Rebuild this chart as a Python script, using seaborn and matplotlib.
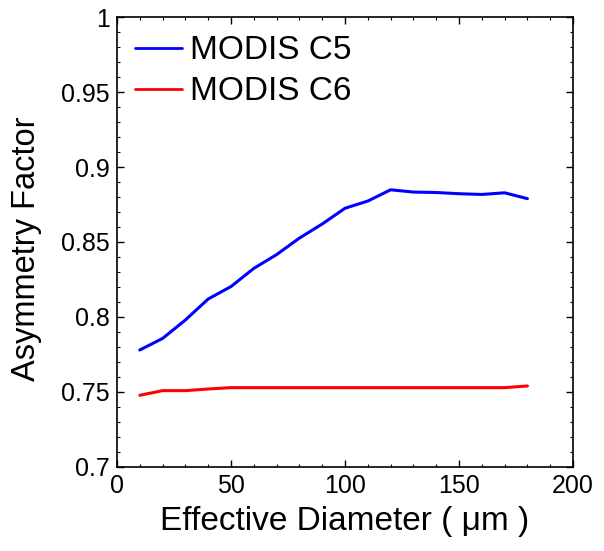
import matplotlib
matplotlib.use("Agg")
import matplotlib.pyplot as plt
import seaborn as sns
import pandas as pd
from matplotlib.ticker import MultipleLocator

diameter = [10, 20, 30, 40, 50, 60, 70, 80, 90, 100, 110, 120, 130, 140, 150, 160, 170, 180]
c5 = [0.778, 0.7857, 0.798, 0.812, 0.8203, 0.8324, 0.8416, 0.8526, 0.862, 0.8725,
      0.8773, 0.8848, 0.8833, 0.883, 0.8822, 0.8817, 0.8828, 0.8789]
c6 = [0.7478, 0.7509, 0.7509, 0.752, 0.7529, 0.7529, 0.7529, 0.7529, 0.7529, 0.7529,
      0.7529, 0.7529, 0.7529, 0.7529, 0.7529, 0.7529, 0.7529, 0.754]
series = ["MODIS C5", "MODIS C6"]
xticks = [0, 50, 100, 150, 200]
xticklabels = ["0", "50", "100", "150", "200"]
yticks = [0.7, 0.75, 0.8, 0.85, 0.9, 0.95, 1.0]
yticklabels = ["0.7", "0.75", "0.8", "0.85", "0.9", "0.95", "1"]

df = pd.DataFrame({
    "x": diameter * 2,
    "y": c5 + c6,
    "series": [series[0]] * len(diameter) + [series[1]] * len(diameter),
})

sns.set_style("ticks")
plt.rcParams["font.family"] = ["Liberation Sans", "DejaVu Sans"]
plt.rcParams["text.color"] = "black"
plt.rcParams["axes.labelcolor"] = "black"
plt.rcParams["xtick.color"] = "black"
plt.rcParams["ytick.color"] = "black"

fig = plt.figure(figsize=(6.04, 5.51), dpi=100)
ax = fig.add_axes([0.1937, 0.1525, 0.755, 0.8166])
sns.lineplot(data=df, x="x", y="y", hue="series", palette=["#0000ff", "#ff0000"],
             linewidth=2.2, ax=ax)

ax.set_xlim(0, 200)
ax.set_ylim(0.7, 1.0)
ax.set_xticks(xticks)
ax.set_xticklabels(xticklabels)
ax.set_yticks(yticks)
ax.set_yticklabels(yticklabels)
ax.xaxis.set_minor_locator(MultipleLocator(10))
ax.yaxis.set_minor_locator(MultipleLocator(0.01))
ax.tick_params(which="both", direction="in", top=True, right=True, labelsize=18,
               pad=5, colors="black")
ax.tick_params(which="major", length=5, width=1)
ax.tick_params(which="minor", length=2.5, width=0.8)
for s in ax.spines.values():
    s.set_linewidth(1.2)
    s.set_color("black")

ax.set_xlabel("Effective Diameter ( μm )", fontsize=24, labelpad=6)
ax.set_ylabel("Asymmetry Factor", fontsize=23.5)
ax.yaxis.set_label_coords(-0.165, 0.485)

leg = ax.legend(loc="upper left", frameon=False, fontsize=24, handlelength=1.4,
                handletextpad=0.25, borderaxespad=0.15, labelspacing=0.3,
                bbox_to_anchor=(0.0, 1.0))
for line in leg.get_lines():
    line.set_linewidth(2)

fig.savefig("out.png", dpi=100)
